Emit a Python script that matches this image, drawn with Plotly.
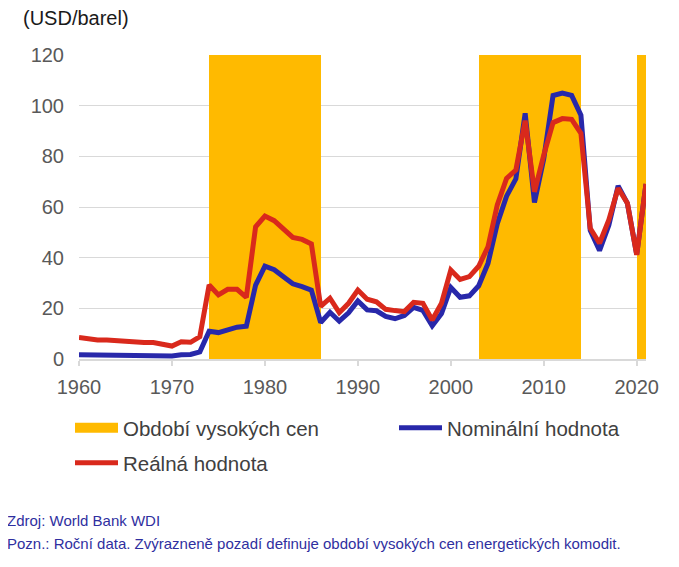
import plotly.graph_objects as go

years = list(range(1960, 2022))

nominal = [1.63, 1.57, 1.52, 1.50, 1.45, 1.42, 1.36, 1.33, 1.32, 1.27,
           1.21, 1.69, 1.82, 2.81, 10.97, 10.43, 11.63, 12.57, 12.91, 29.19,
           36.68, 35.27, 32.45, 29.66, 28.56, 27.18, 14.43, 18.44, 14.92, 18.23,
           22.88, 19.37, 19.03, 16.82, 15.89, 17.18, 20.42, 19.17, 13.07, 17.98,
           28.23, 24.35, 24.93, 28.90, 37.73, 53.39, 64.29, 71.12, 96.99, 61.76,
           79.04, 104.01, 105.01, 104.07, 96.24, 50.75, 42.81, 52.81, 68.35, 61.41,
           41.26, 69.07]

real = [8.5, 7.9, 7.5, 7.5, 7.2, 7.0, 6.6, 6.5, 6.5, 5.8,
        5.1, 6.8, 6.6, 8.8, 29.2, 25.3, 27.5, 27.5, 24.3, 52.2,
        56.4, 54.6, 51.6, 48.0, 47.2, 45.4, 20.8, 24.0, 18.3, 22.0,
        27.2, 23.6, 22.6, 19.6, 19.1, 18.7, 22.4, 22.0, 15.4, 22.0,
        35.1, 31.4, 32.5, 36.6, 44.3, 60.8, 71.3, 74.6, 94.1, 66.0,
        80.5, 93.3, 94.9, 94.6, 89.1, 51.6, 45.7, 54.9, 67.4, 61.5,
        41.1, 69.1]

period_start = [1974, 2003, 2020]
period_end = [1986, 2014, 2021]

x_ticks = [1960, 1970, 1980, 1990, 2000, 2010, 2020]
y_ticks = [0, 20, 40, 60, 80, 100, 120]

ORANGE = "#FFBA00"
BLUE = "#2828AA"
RED = "#D9291C"
FONT = "Liberation Sans, Arial, sans-serif"

y_max = y_ticks[-1]

# page body has an 8px margin; figure is sized/positioned to compensate
OFF = 8
W = 679 - 2 * OFF
H = 567 - 2 * OFF
PL, PR, PT, PB = 79, 646, 55, 359  # plot area in screen pixels
PW = float(PR - PL)
PH = float(PB - PT)


def px_x(px):
    return (px - PL) / PW


def px_y(py):
    return (PB - py) / PH


fig = go.Figure()

fig.add_trace(go.Bar(
    x=[(s + e) / 2 for s, e in zip(period_start, period_end)],
    y=[y_max] * len(period_start),
    width=[e - s for s, e in zip(period_start, period_end)],
    marker=dict(color=ORANGE, line=dict(width=0)),
    showlegend=False, hoverinfo="skip",
))

fig.add_trace(go.Scatter(
    x=[None], y=[None], mode="lines", name="Období vysokých cen",
    line=dict(color=ORANGE, width=11), legend="legend",
))

fig.add_trace(go.Scatter(
    x=years, y=nominal, mode="lines", name="Nominální hodnota",
    line=dict(color=BLUE, width=5), legend="legend2",
))

fig.add_trace(go.Scatter(
    x=years, y=real, mode="lines", name="Reálná hodnota",
    line=dict(color=RED, width=5), legend="legend3",
))

leg_font = dict(family=FONT, size=20.5, color="#404040")

fig.update_layout(
    width=W, height=H,
    margin=dict(l=PL - OFF, r=W - (PR - OFF), t=PT - OFF, b=H - (PB - OFF),
                autoexpand=False),
    plot_bgcolor="white", paper_bgcolor="white",
    font=dict(family=FONT, size=20, color="#595959"),
    barmode="overlay", bargap=0,
    title=dict(text="(USD/barel)", x=(23 - OFF) / W, xanchor="left", xref="container",
               y=1 - (18 - OFF) / H, yanchor="middle", yref="container",
               font=dict(family=FONT, size=20, color="#1a1a1a")),
    xaxis=dict(range=[1960, 2021], tickvals=x_ticks, ticks="outside", ticklen=5,
               tickcolor="#d9d9d9", tickwidth=1.5, showline=True, linecolor="#d9d9d9",
               linewidth=2, showgrid=False, zeroline=False, ticklabelstandoff=4,
               tickfont=dict(size=20, color="#595959")),
    yaxis=dict(range=[0, y_max], tickvals=y_ticks, showgrid=True, gridcolor="#d9d9d9",
               gridwidth=1, zeroline=False, showline=False, ticks="",
               ticklabelstandoff=14, tickfont=dict(size=20, color="#595959")),
    legend=dict(orientation="h", x=px_x(70), xanchor="left",
                y=px_y(428), yanchor="middle", itemwidth=43,
                font=leg_font, bgcolor="rgba(0,0,0,0)"),
    legend2=dict(orientation="h", x=px_x(394), xanchor="left",
                 y=px_y(428), yanchor="middle", itemwidth=43,
                 font=leg_font, bgcolor="rgba(0,0,0,0)"),
    legend3=dict(orientation="h", x=px_x(70), xanchor="left",
                 y=px_y(463), yanchor="middle", itemwidth=43,
                 font=leg_font, bgcolor="rgba(0,0,0,0)"),
    annotations=[
        dict(text="Zdroj: World Bank WDI", xref="paper", yref="paper",
             x=px_x(5), y=px_y(520), xanchor="left", yanchor="middle",
             showarrow=False, font=dict(family=FONT, size=15, color="#2f2fa0")),
        dict(text="Pozn.: Roční data. Zvýrazneně pozadí definuje období vysokých cen energetických komodit.",
             xref="paper", yref="paper",
             x=px_x(5), y=px_y(543), xanchor="left", yanchor="middle",
             showarrow=False, font=dict(family=FONT, size=15, color="#2f2fa0")),
    ],
)

fig.write_html("out.html")
